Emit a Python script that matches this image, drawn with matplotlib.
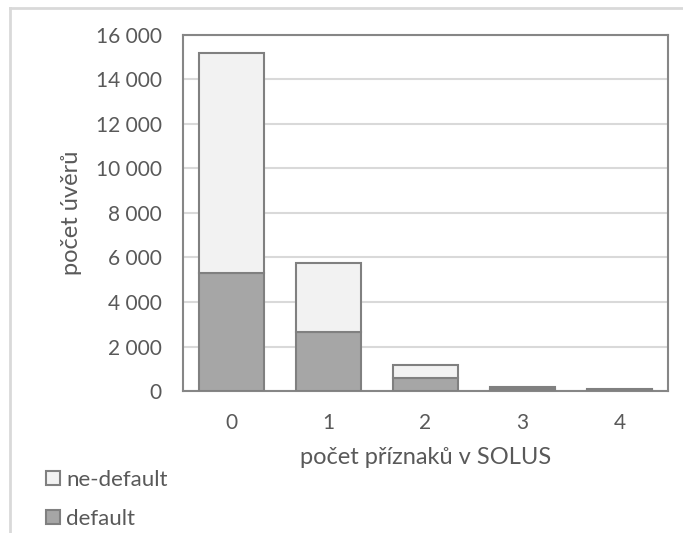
import matplotlib.pyplot as plt
from matplotlib.patches import Patch
from matplotlib.lines import Line2D
from matplotlib.ticker import FuncFormatter

plt.rcParams['font.family'] = ['Lato', 'DejaVu Sans']

kategorie = ['0', '1', '2', '3', '4']
default = [5300, 2650, 590, 100, 60]
ne_default = [9900, 3100, 580, 60, 35]

text_col = '#595959'
edge_col = '#808080'

fig = plt.figure(figsize=(6.83, 5.33), dpi=100)
ax = fig.add_axes([0.268, 0.2664, 0.710, 0.668])

x = range(len(kategorie))
ax.bar(x, default, width=0.67, color='#a6a6a6', edgecolor=edge_col, linewidth=1.5, zorder=3)
ax.bar(x, ne_default, width=0.67, bottom=default, color='#f2f2f2', edgecolor=edge_col,
       linewidth=1.5, zorder=3)

ax.set_xlim(-0.5, 4.5)
ax.set_ylim(0, 16000)
ax.set_yticks(range(0, 16001, 2000))
ax.yaxis.set_major_formatter(FuncFormatter(lambda v, p: f'{int(v):,}'.replace(',', ' ')))
ax.set_xticks(list(x))
ax.set_xticklabels(kategorie)
ax.grid(axis='y', color='#d9d9d9', linewidth=1.5, zorder=0)
ax.tick_params(length=0, labelsize=15, colors=text_col)
ax.tick_params(axis='y', pad=15.5)
ax.tick_params(axis='x', pad=16)
for s in ax.spines.values():
    s.set_color('#868686')
    s.set_linewidth(1.5)

ax.set_ylabel('počet úvěrů', fontsize=17, color=text_col, labelpad=10)
ax.set_xlabel('počet příznaků v SOLUS', fontsize=17, color=text_col, labelpad=10)

handles = [Patch(facecolor='#f2f2f2', edgecolor=edge_col, linewidth=1.5, label='ne-default'),
           Patch(facecolor='#a6a6a6', edgecolor=edge_col, linewidth=1.5, label='default')]
leg = fig.legend(handles=handles, loc='upper left', bbox_to_anchor=(0.068, 1 - 470 / 533),
                 frameon=False, fontsize=16, handlelength=0.6, handleheight=0.6,
                 handletextpad=0.3, labelspacing=0.85, borderpad=0, borderaxespad=0)
for t in leg.get_texts():
    t.set_color(text_col)

# vnější rámeček grafu
fig.add_artist(Line2D([10 / 683, 10 / 683], [0, 1 - 8 / 533], color='#d9d9d9', linewidth=2,
                      transform=fig.transFigure))
fig.add_artist(Line2D([10 / 683, 1], [1 - 8 / 533, 1 - 8 / 533], color='#d9d9d9', linewidth=2,
                      transform=fig.transFigure))

fig.savefig('out.png', dpi=100)
